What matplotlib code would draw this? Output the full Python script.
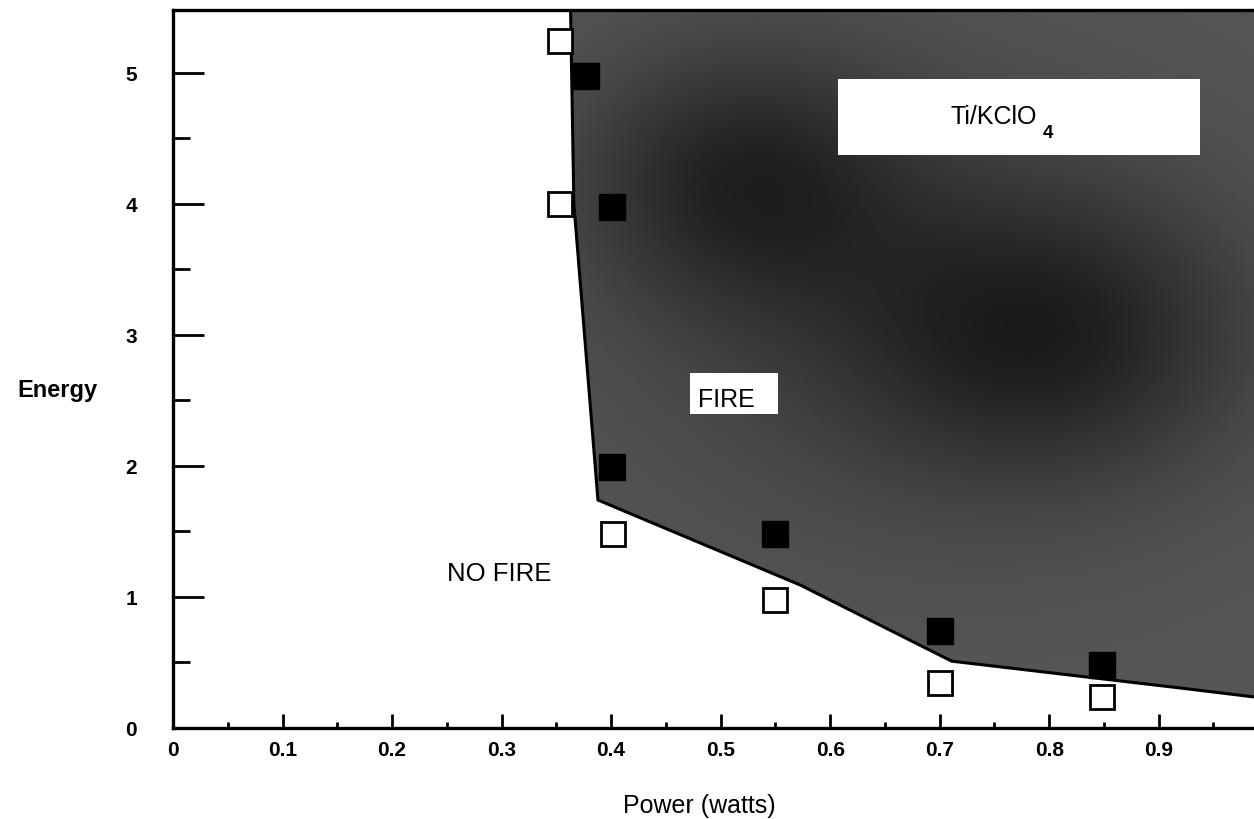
import matplotlib
matplotlib.use("Agg")
import numpy as np
import matplotlib.pyplot as plt
from matplotlib.ticker import MultipleLocator, FixedLocator
from matplotlib.patches import Rectangle, Polygon

plt.rcParams['font.family'] = ['Liberation Sans', 'DejaVu Sans']

# Data
fire_power = [0.377, 0.401, 0.401, 0.550, 0.700, 0.848]
fire_energy = [4.98, 3.98, 1.99, 1.48, 0.74, 0.48]
nofire_power = [0.353, 0.353, 0.402, 0.550, 0.700, 0.848]
nofire_energy = [5.24, 4.00, 1.48, 0.98, 0.34, 0.24]
boundary_power = [0.363, 0.366, 0.388, 0.573, 0.711, 0.92, 0.987]
boundary_energy = [5.48, 4.00, 1.74, 1.09, 0.51, 0.305, 0.237]
x_ticks = [0, 0.1, 0.2, 0.3, 0.4, 0.5, 0.6, 0.7, 0.8, 0.9]
x_tick_labels = ['0', '0.1', '0.2', '0.3', '0.4', '0.5', '0.6', '0.7', '0.8', '0.9']
y_ticks = [0, 1, 2, 3, 4, 5]
y_tick_labels = ['0', '1', '2', '3', '4', '5']

XMAX, YMAX = 0.987, 5.48

W, H = 1254, 820
fig = plt.figure(figsize=(W / 100, H / 100), dpi=100)
ax = fig.add_axes([173 / W, 1 - 729 / H, (W - 173) / W, (729 - 11) / H])
ax.set_xlim(0, XMAX)
ax.set_ylim(0, YMAX)

# Fire region polygon (boundary to right edge and top), halftone-like shading
poly_x = boundary_power + [XMAX, boundary_power[0]]
poly_y = boundary_energy + [YMAX, YMAX]
poly = Polygon(np.column_stack([poly_x, poly_y]), closed=True,
               facecolor='none', edgecolor='none')
ax.add_patch(poly)
gx, gy = np.meshgrid(np.linspace(0.3, XMAX, 300), np.linspace(0, YMAX, 300))
shade = (0.34
         - 0.17 * np.exp(-(((gx - 0.52) / 0.15) ** 2 + ((gy - 4.2) / 1.0) ** 2))
         - 0.17 * np.exp(-(((gx - 0.80) / 0.18) ** 2 + ((gy - 3.0) / 1.1) ** 2))
         - 0.08 * np.exp(-(((gx - 0.66) / 0.28) ** 2 + ((gy - 3.2) / 1.8) ** 2)))
im = ax.imshow(shade, extent=(0.3, XMAX, 0, YMAX), origin='lower', cmap='gray',
               vmin=0, vmax=1, aspect='auto', interpolation='bilinear', zorder=1)
im.set_clip_path(poly)
ax.plot(boundary_power, boundary_energy, color='black', lw=2.2, zorder=2,
        solid_joinstyle='miter')

# White label boxes
ax.add_patch(Rectangle((0.607, 4.37), 0.331, 0.58, facecolor='white',
                       edgecolor='none', zorder=3))
ax.add_patch(Rectangle((0.472, 2.40), 0.080, 0.31, facecolor='white',
                       edgecolor='none', zorder=3))

ax.text(0.789, 4.62, 'Ti/KClO', fontsize=18, ha='right', va='baseline', zorder=4)
ax.text(0.794, 4.51, '4', fontsize=13.5, fontweight='bold', ha='left',
        va='baseline', zorder=4)
ax.text(0.479, 2.46, 'FIRE', fontsize=18, ha='left', va='baseline', zorder=4)
ax.text(0.250, 1.13, 'NO FIRE', fontsize=18.5, ha='left', va='baseline', zorder=4)

# Markers
ax.plot(nofire_power, nofire_energy, linestyle='none', marker='s', markersize=17.5,
        markerfacecolor='white', markeredgecolor='black', markeredgewidth=2.0,
        zorder=5, clip_on=False)
ax.plot(fire_power, fire_energy, linestyle='none', marker='s', markersize=18.5,
        markerfacecolor='black', markeredgecolor='black', markeredgewidth=1.0,
        zorder=5, clip_on=False)

# Spines
ax.spines['right'].set_visible(False)
for s in ['left', 'bottom', 'top']:
    ax.spines[s].set_linewidth(2.4)
    ax.spines[s].set_zorder(6)

# Ticks
ax.xaxis.set_major_locator(FixedLocator(x_ticks))
ax.set_xticklabels(x_tick_labels)
ax.xaxis.set_minor_locator(MultipleLocator(0.05))
ax.yaxis.set_major_locator(FixedLocator(y_ticks))
ax.set_yticklabels(y_tick_labels)
ax.yaxis.set_minor_locator(MultipleLocator(0.5))
ax.tick_params(axis='x', which='major', direction='in', length=10, width=2.0,
               pad=9, labelsize=15)
ax.tick_params(axis='x', which='minor', direction='in', length=4.5, width=2.0)
ax.tick_params(axis='y', which='major', direction='in', length=22, width=2.0,
               pad=26, labelsize=15)
ax.tick_params(axis='y', which='minor', direction='in', length=12.5, width=2.0)
ax.tick_params(top=False, right=False, which='both')
for lab in ax.get_xticklabels() + ax.get_yticklabels():
    lab.set_fontweight('bold')

fig.text(57.5 / W, 1 - 397 / H, 'Energy', fontsize=17, fontweight='bold',
         ha='center', va='baseline')
fig.text(699 / W, 1 - 813 / H, 'Power (watts)', fontsize=18, ha='center',
         va='baseline')

fig.savefig('out.png', dpi=100)
